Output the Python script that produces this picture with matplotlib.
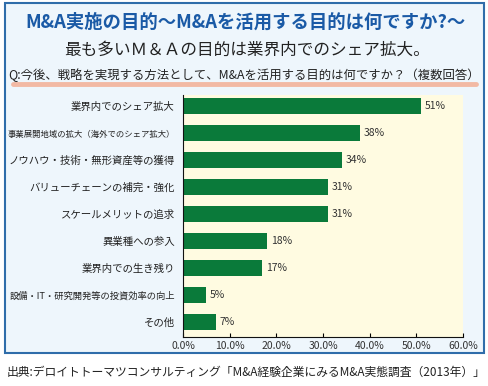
import matplotlib.pyplot as plt
from matplotlib.patches import Rectangle
from matplotlib.lines import Line2D

plt.rcParams['font.family'] = ['Noto Sans CJK JP', 'DejaVu Sans']

categories = ['業界内でのシェア拡大', '事業展開地域の拡大（海外でのシェア拡大）', 'ノウハウ・技術・無形資産等の獲得',
              'バリューチェーンの補完・強化', 'スケールメリットの追求', '異業種への参入',
              '業界内での生き残り', '設備・IT・研究開発等の投資効率の向上', 'その他']
values = [51, 38, 34, 31, 31, 18, 17, 5, 7]
xticks = [0, 10, 20, 30, 40, 50, 60]

title = 'M&A実施の目的～M&Aを活用する目的は何ですか?～'
subtitle = '最も多いＭ＆Ａの目的は業界内でのシェア拡大。'
question = 'Q:今後、戦略を実現する方法として、M&Aを活用する目的は何ですか？（複数回答）'
source = '出典:デロイトトーマツコンサルティング「M&A経験企業にみるM&A実態調査（2013年）」'

W, H = 489, 386
fig = plt.figure(figsize=(W / 100, H / 100), dpi=100)
fig.patch.set_facecolor('white')

# outer framed panel
fig.patches.append(Rectangle((5 / W, 1 - 353 / H), 479 / W, 350 / H, transform=fig.transFigure,
                             facecolor='#EEF6FC', edgecolor='#2F6DAA', lw=1.5, zorder=-5))

# pink underline under the question
fig.add_artist(Line2D([13 / W, 476 / W], [1 - 84 / H, 1 - 84 / H], transform=fig.transFigure,
                      color='#F2B9A4', lw=3.5, solid_capstyle='round', zorder=-4))

fig.text(246 / W, 1 - 22 / H, title, ha='center', va='center', fontsize=13.2,
         fontweight='bold', color='#1A5AA6')
fig.text(247 / W, 1 - 50 / H, subtitle, ha='center', va='center', fontsize=12, color='#222222')
fig.text(244 / W, 1 - 75 / H, question, ha='center', va='center', fontsize=8.9,
         color='#222222')
fig.text(7 / W, 1 - 372 / H, source, ha='left', va='center', fontsize=8.5, color='#222222')

ax = fig.add_axes([183 / W, 1 - 337 / H, 280 / W, 242 / H])
ax.set_zorder(2)
ax.set_facecolor('#FFFBE1')
y = range(len(categories))
ax.barh(y, values, height=0.6, color='#0A7A3A', zorder=2)
for i, v in enumerate(values):
    ax.text(v + 0.8, i, f'{v}%', va='center', ha='left', fontsize=7.5, color='#333333')

ax.set_xlim(0, 60)
ax.set_ylim(8.56, -0.41)
ax.set_yticks(list(y))
ax.set_yticklabels(categories, fontsize=7.5, color='#222222')
labs = ax.get_yticklabels()
labs[1].set_fontsize(6.0)
labs[7].set_fontsize(6.7)
ax.tick_params(axis='y', length=0, pad=6)
ax.set_xticks(xticks)
ax.set_xticklabels([f'{t:.1f}%' for t in xticks], fontsize=7.5, color='#333333')
ax.tick_params(axis='x', direction='in', length=3, width=0.8, pad=3)
ax.spines['top'].set_visible(False)
ax.spines['right'].set_visible(False)
ax.spines['left'].set_color('#111111')
ax.spines['bottom'].set_color('#111111')

plt.savefig('out.png', dpi=100)
